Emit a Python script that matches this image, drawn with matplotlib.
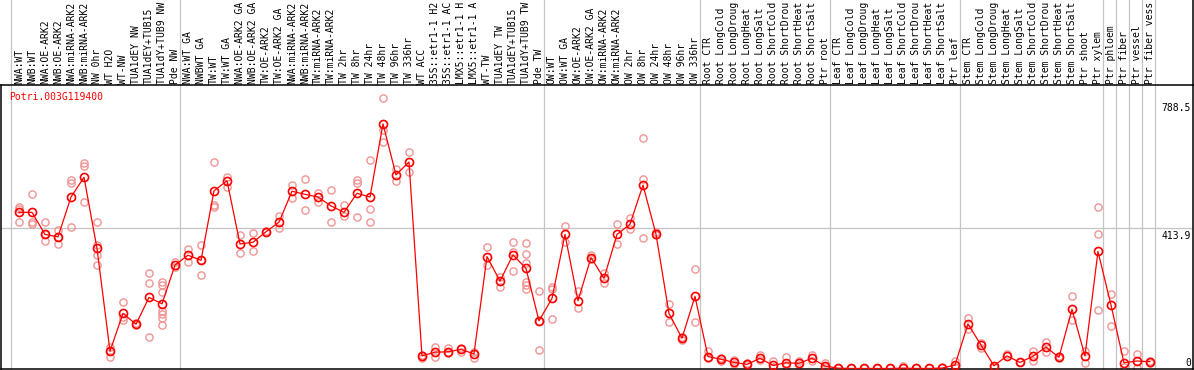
import matplotlib
matplotlib.use('Agg')
import numpy as np
import matplotlib.pyplot as plt
import matplotlib.transforms as mtransforms

gene = 'Potri.003G119400'

# sample names, left to right (as far as they show in the header)
labels = [
    'NWA:WT', 'NWB:WT', 'NWA:OE-ARK2', 'NWB:OE-ARK2', 'NWA:miRNA-ARK2', 'NWB:miRNA-ARK2',
    'NW 0hr', 'WT H2O', 'WT-NW', 'TUA1dEY NW', 'TUA1dEY+TUB15', 'TUA1dY+TUB9 NW', 'Pde NW',
    'NWA:WT GA', 'NWBWT GA', 'TW:WT', 'TW:WT GA', 'NWA:OE-ARK2 GA', 'NWB:OE-ARK2 GA',
    'TW:OE-ARK2', 'TW:OE-ARK2 GA', 'NWA:miRNA-ARK2', 'NWB:miRNA-ARK2', 'TW:miRNA-ARK2',
    'TW:miRNA-ARK2', 'TW 2hr', 'TW 8hr', 'TW 24hr', 'TW 48hr', 'TW 96hr', 'TW 336hr',
    'WT ACC', '35S::etr1-1 H2', '35S::etr1-1 AC', 'LMX5::etr1-1 H', 'LMX5::etr1-1 A',
    'WT-TW', 'TUA1dEY TW', 'TUA1dEY+TUB15', 'TUA1dY+TUB9 TW', 'Pde TW',
    'OW:WT', 'OW:WT GA', 'OW:OE-ARK2', 'OW:OE-ARK2 GA', 'OW:miRNA-ARK2', 'OW:miRNA-ARK2',
    'OW 2hr', 'OW 8hr', 'OW 24hr', 'OW 48hr', 'OW 96hr', 'OW 336hr',
    'Root CTR', 'Root LongCold', 'Root LongDroug', 'Root LongHeat', 'Root LongSalt',
    'Root ShortCold', 'Root ShortDrou', 'Root ShortHeat', 'Root ShortSalt', 'Ptr root',
    'Leaf CTR', 'Leaf LongCold', 'Leaf LongDroug', 'Leaf LongHeat', 'Leaf LongSalt',
    'Leaf ShortCold', 'Leaf ShortDrou', 'Leaf ShortHeat', 'Leaf ShortSalt', 'Ptr leaf',
    'Stem CTR', 'Stem LongCold', 'Stem LongDroug', 'Stem LongHeat', 'Stem LongSalt',
    'Stem ShortCold', 'Stem ShortDrou', 'Stem ShortHeat', 'Stem ShortSalt', 'Ptr shoot',
    'Ptr xylem', 'Ptr phloem', 'Ptr fiber', 'Ptr vessel', 'Ptr fiber vess',
]

# number of samples in each block (gray separators between blocks)
group_sizes = [13, 28, 12, 10, 10, 11, 1, 1, 1, 1]

# mean expression
means = [
    459, 459, 394, 387, 504, 562, 353, 51, 162, 130, 209, 190, 304,
    333, 318, 522, 552, 366, 371, 402, 430, 521, 512, 504, 478, 459, 515, 504, 719, 569, 607,
    37, 48, 49, 56, 43, 329, 257, 334, 294, 140,
    206, 394, 199, 326, 265, 394, 424, 539, 395, 162, 89, 212,
    35, 27, 18, 12, 30, 9, 17, 15, 30, 7,
    1, 0, 0, 0, 0, 1, 0, 0, 1, 10,
    131, 69, 8, 37, 18, 36, 63, 33, 174, 37, 344,
    187, 17, 22, 20,
]

# single replicates
reps = [
    [476, 430, 469], [512, 430, 425], [430, 376, 394], [407, 365, 387], [554, 544, 415],
    [605, 595, 489], [430, 363, 334, 304], [64, 35, 51], [194, 143, 152], [133, 128],
    [280, 252, 94], [255, 245, 226, 170, 160, 149, 127], [314, 299],
    [351, 314], [363, 274, 318], [607, 481, 474], [562, 534], [392, 339], [397, 344],
    [402, 405], [448, 412], [539, 502], [557, 466], [517, 488], [525, 430], [481, 448],
    [554, 546, 444], [613, 469, 430], [794, 701, 665], [586, 552], [635, 577],
    [30, 40], [64, 35], [61, 45], [59, 49], [49, 32], [356, 304], [268, 239],
    [371, 343, 286], [368, 336, 309, 255, 245, 233], [227, 54, 140],
    [241, 233, 145], [419, 373], [228, 177], [334, 321], [280, 250], [424, 366],
    [441, 409], [677, 556, 383], [402, 392], [189, 136], [94, 84], [291, 136],
    [51, 30], [32, 23], [25, 13], [15, 9], [40, 25], [23, 5], [35, 7], [23, 9], [40, 23], [15, 3],
    [1], [0], [0], [0], [0], [7], [0], [0], [5], [23, 3],
    [149, 115], [74, 59], [5], [42], [20], [51, 23], [79, 48], [37, 30], [213, 143],
    [52, 15], [474, 394, 172],
    [219, 125], [51, 5], [42, 0], [23, 17],
]

ytick_vals = [0, 413.9, 788.5]

mono = 'DejaVu Sans Mono'
fs = 7

fig = plt.figure(figsize=(11.94, 3.70), dpi=100)
ax = fig.add_axes([1 / 1194, 1 / 370, 1192 / 1194, 284 / 370])

x = np.arange(len(means))

# replicates (light) behind the mean line
for i, vals in enumerate(reps):
    ax.plot([i] * len(vals), vals, 'o', ms=5.2, mfc='none', mec='#f09494', mew=1.0,
            clip_on=False, zorder=2)
ax.plot(x, means, '-', color='red', lw=0.9, zorder=3)
ax.plot(x, means, 'o', ms=5.8, mfc='none', mec='red', mew=1.2, clip_on=False, zorder=4)

ax.set_xlim(-1.385, 90.31)
ax.set_ylim(-1.5, 833.3)
ax.set_xticks([])
ax.set_yticks([])
for s in ax.spines.values():
    s.set_color('black')
    s.set_linewidth(1.1)

# grid
ax.axhline(ytick_vals[1], color='#c4c4c4', lw=0.9, zorder=1)
top_frac = 369 / 284
bounds = np.cumsum([0] + group_sizes) - 0.62
for b in bounds:
    ax.axvline(b, ymin=0, ymax=top_frac, color='#c4c4c4', lw=0.9, clip_on=False, zorder=1)
ax.plot([1, 1], [1, top_frac], transform=ax.transAxes, color='black', lw=1.1, clip_on=False)

# sample names on top
xtrans = ax.get_xaxis_transform()
for i, lab in enumerate(labels):
    ax.text(i, 1 + 1.5 / 284, lab, rotation=90, ha='center', va='bottom', fontsize=fs,
            family=mono, transform=xtrans, clip_on=False)

# value labels on the right
ytrans = mtransforms.blended_transform_factory(ax.transAxes, ax.transData)
for v in ytick_vals:
    txt = '0' if v == 0 else f'{v:.1f}'
    off = mtransforms.offset_copy(ytrans, fig=fig, y=0 if v == 0 else -3, units='dots')
    ax.text(1190 / 1192, v, txt, ha='right', va='bottom' if v == 0 else 'top',
            fontsize=fs, family=mono, transform=off)

ax.text(8 / 1192, (369 - 92) / 284, gene, color='red', ha='left', va='top',
        fontsize=fs, family=mono, transform=ax.transAxes)

fig.savefig('out.png', dpi=100)
